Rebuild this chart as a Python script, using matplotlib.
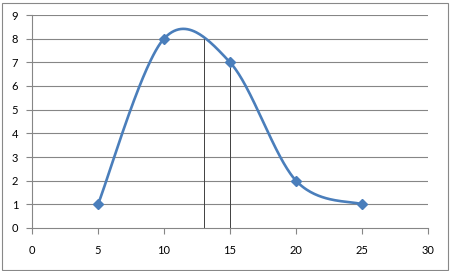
import numpy as np
import matplotlib
matplotlib.use('Agg')
from matplotlib import pyplot as plt
from matplotlib.patches import Rectangle

# data
x_pts = [5, 10, 15, 20, 25]
y_pts = [1, 8, 7, 2, 1]
drop_x = [13, 15]
drop_top = [8.05, 7]
x_ticks = [0, 5, 10, 15, 20, 25, 30]
y_ticks = [0, 1, 2, 3, 4, 5, 6, 7, 8, 9]

line_col = '#4A7EBB'
grid_col = '#868686'


def smooth_curve(xs, ys, n=60):
    # Catmull-Rom style bezier like Excel's smoothed line
    px = np.array(xs, dtype=float)
    py = np.array(ys, dtype=float)
    ox, oy = [], []
    for i in range(len(px) - 1):
        p0 = i - 1 if i > 0 else i
        p3 = i + 2 if i + 2 < len(px) else i + 1
        c1x = px[i] + (px[i + 1] - px[p0]) / 6
        c1y = py[i] + (py[i + 1] - py[p0]) / 6
        c2x = px[i + 1] - (px[p3] - px[i]) / 6
        c2y = py[i + 1] - (py[p3] - py[i]) / 6
        t = np.linspace(0, 1, n)
        bx = (1 - t) ** 3 * px[i] + 3 * t * (1 - t) ** 2 * c1x + 3 * t ** 2 * (1 - t) * c2x + t ** 3 * px[i + 1]
        by = (1 - t) ** 3 * py[i] + 3 * t * (1 - t) ** 2 * c1y + 3 * t ** 2 * (1 - t) * c2y + t ** 3 * py[i + 1]
        ox.extend(bx)
        oy.extend(by)
    return ox, oy


plt.rcParams['font.family'] = ['Lato', 'DejaVu Sans']

fig = plt.figure(figsize=(4.5, 2.71), dpi=100)
ax = fig.add_axes([32 / 450, 43 / 271, 396 / 450, 213 / 271])

fig.patches.append(Rectangle((1.5 / 450, 1.5 / 271), 446 / 450, 267 / 271, transform=fig.transFigure,
                             fill=False, edgecolor='#888888', linewidth=0.8))

for yv in y_ticks[1:]:
    ax.axhline(yv, color=grid_col, linewidth=0.8, zorder=1)

for xv, top in zip(drop_x, drop_top):
    ax.plot([xv, xv], [0, top], color='#404040', linewidth=0.7, zorder=2)

cx, cy = smooth_curve(x_pts, y_pts)
ax.plot(cx, cy, color=line_col, linewidth=1.9, zorder=3, solid_capstyle='round')
ax.plot(x_pts, y_pts, linestyle='none', marker='D', markersize=5, color=line_col, zorder=4)

ax.set_xlim(0, 30)
ax.set_ylim(0, 9)
ax.set_xticks(x_ticks)
ax.set_yticks(y_ticks)
for s in ['top', 'right']:
    ax.spines[s].set_visible(False)
for s in ['left', 'bottom']:
    ax.spines[s].set_color(grid_col)
    ax.spines[s].set_linewidth(0.8)
ax.tick_params(axis='both', colors=grid_col, length=4, width=0.8, labelsize=8, labelcolor='black')
ax.tick_params(axis='x', pad=8)
ax.tick_params(axis='y', pad=6)

fig.savefig('out.png', dpi=100)
